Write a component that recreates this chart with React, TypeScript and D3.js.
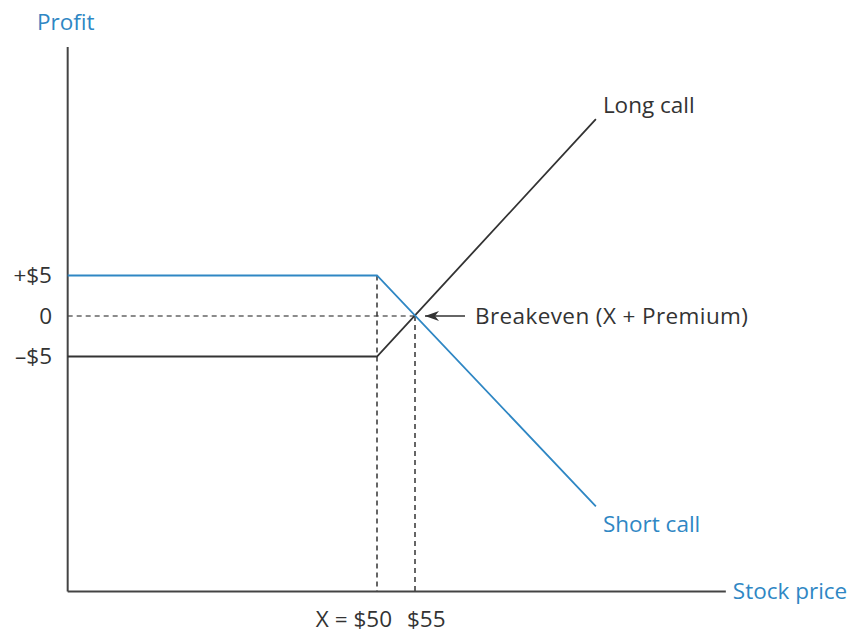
import React from "react";
import * as d3 from "d3";

// Data (stock price in $, profit in $)
const axisPriceRange = [9.3, 95.9];
const axisProfitRange = [-34, 33.2];
const strike = 50;
const breakeven = 55;
const premium = 5;
const longCall: [number, number][] = [
  [9.3, -5],
  [50, -5],
  [78.8, 24.3],
];
const shortCall: [number, number][] = [
  [9.3, 5],
  [50, 5],
  [78.8, -23.5],
];
const yTicks = [
  { value: 5, label: "+$5" },
  { value: 0, label: "0" },
  { value: -5, label: "\u2013$5" },
];
const xTicks = [
  { value: 50, label: "X = $50", anchor: "end" },
  { value: 55, label: "$55", anchor: "start" },
];

const BLUE = "#2f87c4";
const DARK = "#333333";
const FONT = "'Open Sans', 'Noto Sans', sans-serif";
const FS = 22.5;

export default function App() {
  const x = d3.scaleLinear().domain([50, 55]).range([377, 415]);
  const y = d3.scaleLinear().domain([-5, 5]).range([356.5, 275.5]);
  const line = d3
    .line<[number, number]>()
    .x((d) => x(d[0]))
    .y((d) => y(d[1]));

  const x0 = x(axisPriceRange[0]);
  const x1 = x(axisPriceRange[1]);
  const yb = y(axisProfitRange[0]);
  const yt = y(axisProfitRange[1]);
  const lastL = longCall[longCall.length - 1];
  const lastS = shortCall[shortCall.length - 1];

  return (
    <svg
      width={854}
      height={635}
      style={{ position: "absolute", left: 0, top: 0, background: "#fff" }}
      fontFamily={FONT}
    >
      <defs>
        <marker
          id="arr"
          viewBox="0 0 14 10"
          refX="14"
          refY="5"
          markerWidth="14"
          markerHeight="10"
          markerUnits="userSpaceOnUse"
          orient="auto"
        >
          <path d="M0,0 L14,5 L0,10 L4,5 Z" fill={DARK} />
        </marker>
      </defs>
      {/* dashed guides */}
      <g stroke={DARK} strokeWidth={1.5} strokeDasharray="5,4" fill="none">
        <line x1={x0} x2={x(breakeven)} y1={y(0)} y2={y(0)} stroke="#666" />
        <line x1={x(strike)} x2={x(strike)} y1={y(premium)} y2={yb} />
        <line x1={x(breakeven)} x2={x(breakeven)} y1={y(0)} y2={yb} />
      </g>
      {/* axes */}
      <line x1={x0} x2={x0} y1={yt} y2={yb} stroke="#444" strokeWidth={2} />
      <line x1={x0} x2={x1} y1={yb} y2={yb} stroke="#444" strokeWidth={2} />
      {/* payoff lines */}
      <path d={line(longCall) ?? ""} fill="none" stroke={DARK} strokeWidth={1.8} />
      <path d={line(shortCall) ?? ""} fill="none" stroke={BLUE} strokeWidth={1.8} />
      {/* y tick labels */}
      {yTicks.map((t) => (
        <text
          key={t.label}
          x={52}
          y={y(t.value)}
          dy="0.35em"
          textAnchor="end"
          fontSize={FS}
          fill={DARK}
        >
          {t.label}
        </text>
      ))}
      {/* x tick labels */}
      {xTicks.map((t) => (
        <text
          key={t.label}
          x={x(t.value) + (t.anchor === "end" ? 15 : -8)}
          y={627}
          textAnchor={t.anchor}
          fontSize={FS}
          fill={DARK}
        >
          {t.label}
        </text>
      ))}
      {/* axis titles */}
      <text x={37} y={30} fontSize={FS} fill={BLUE}>
        Profit
      </text>
      <text x={x1 + 7} y={y(axisProfitRange[0])} dy="0.35em" fontSize={FS} fill={BLUE}>
        Stock price
      </text>
      {/* line labels */}
      <text x={x(lastL[0]) + 7} y={113} fontSize={FS} fill={DARK}>
        Long call
      </text>
      <text x={x(lastS[0]) + 7} y={532} fontSize={FS} fill={BLUE}>
        Short call
      </text>
      {/* breakeven annotation */}
      <line
        x1={465}
        x2={425}
        y1={y(0)}
        y2={y(0)}
        stroke={DARK}
        strokeWidth={1.5}
        markerEnd="url(#arr)"
      />
      <text x={475} y={y(0)} dy="0.35em" fontSize={FS} fill={DARK} letterSpacing={0.4}>
        Breakeven (X + Premium)
      </text>
    </svg>
  );
}
